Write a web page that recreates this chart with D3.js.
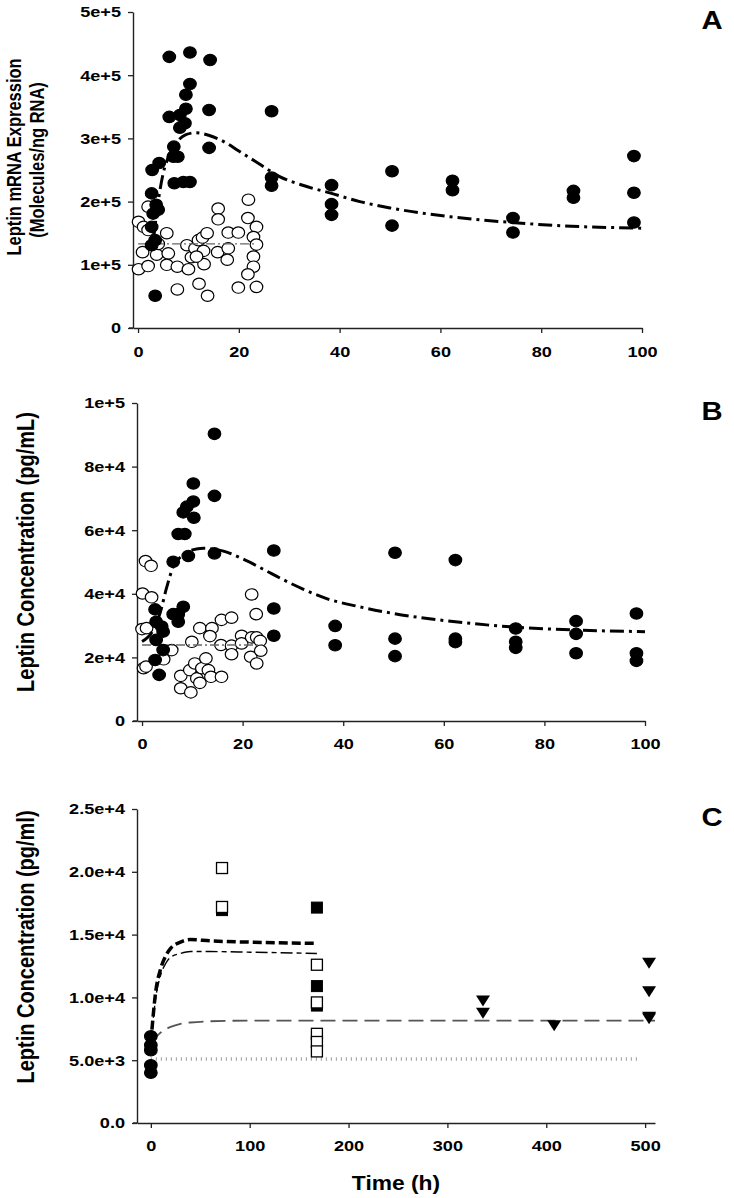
<!DOCTYPE html>
<html><head><meta charset="utf-8">
<script src="https://cdn.jsdelivr.net/npm/d3@7"></script>
<style>
html,body{margin:0;padding:0;background:#fff;}
svg text{font-family:"Liberation Sans",Arial,sans-serif;font-weight:bold;fill:#000;}
</style></head>
<body>
<svg id="chart" width="734" height="1198"></svg>
<script>
// ---------- DATA ----------
const xTicksAB = [0, 20, 40, 60, 80, 100];
const xTicksC = [0, 100, 200, 300, 400, 500];
const yTicksA = [0, 1e5, 2e5, 3e5, 4e5, 5e5];
const yLabelsA = ["0", "1e+5", "2e+5", "3e+5", "4e+5", "5e+5"];
const yTicksB = [0, 2e4, 4e4, 6e4, 8e4, 1e5];
const yLabelsB = ["0", "2e+4", "4e+4", "6e+4", "8e+4", "1e+5"];
const yTicksC = [0, 5e3, 1e4, 1.5e4, 2e4, 2.5e4];
const yLabelsC = ["0.0", "5.0e+3", "1.0e+4", "1.5e+4", "2.0e+4", "2.5e+4"];

// Panel A: leptin mRNA
const aFilled = [[6.2,4.29e5],[10.3,4.36e5],[14.3,4.24e5],[10.3,3.86e5],[9.5,3.69e5],[9.5,3.47e5],[14.1,3.45e5],[26.5,3.43e5],
  [6.2,3.34e5],[8.3,3.37e5],[9.3,3.24e5],[8.3,3.17e5],[7.1,2.87e5],[14.1,2.85e5],[7.0,2.71e5],[7.9,2.71e5],[4.2,2.61e5],
  [2.8,2.5e5],[7.2,2.29e5],[9.0,2.31e5],[10.3,2.31e5],[26.5,2.38e5],[26.5,2.25e5],[2.7,2.13e5],[3.6,1.95e5],[4.0,1.87e5],
  [3.0,1.81e5],[2.7,1.6e5],[3.4,1.39e5],[2.7,1.31e5],[3.4,0.51e5],
  [38.4,2.26e5],[38.4,1.96e5],[38.4,1.79e5],[50.4,2.48e5],[50.4,1.62e5],[62.4,2.33e5],[62.4,2.18e5],[74.4,1.74e5],
  [74.4,1.51e5],[86.4,2.17e5],[86.4,2.06e5],[98.4,2.72e5],[98.4,2.14e5],[98.4,1.67e5]];
const aOpen = [[0.1,1.68e5],[2.0,1.92e5],[1.1,1.6e5],[2.0,1.55e5],[0.1,0.93e5],[2.0,0.98e5],[0.9,1.2e5],[3.7,1.16e5],
  [4.0,1.33e5],[5.7,1.5e5],[6.0,1.18e5],[5.7,1.0e5],[7.8,0.97e5],[7.8,0.61e5],[9.7,1.31e5],[10.0,0.93e5],[10.6,1.12e5],
  [11.3,1.26e5],[12.0,1.39e5],[12.8,1.43e5],[13.7,1.5e5],[13.0,1.22e5],[13.1,1.01e5],[12.1,0.7e5],[13.8,0.51e5],
  [11.6,1.13e5],[15.9,1.89e5],[15.9,1.72e5],[15.8,1.2e5],[17.9,1.51e5],[17.9,1.26e5],[17.7,1.08e5],[19.9,1.51e5],
  [19.9,0.64e5],[21.9,2.03e5],[21.8,1.74e5],[23.5,1.6e5],[22.9,1.44e5],[23.5,1.32e5],[22.9,1.13e5],[22.9,0.97e5],
  [21.8,0.85e5],[23.5,0.65e5]];
const aModel = [[3,1.35e5],[4,2.0e5],[5,2.45e5],[6,2.7e5],[7.5,2.92e5],[9.5,3.06e5],[11.5,3.09e5],[14,3.05e5],[17,2.95e5],
  [20,2.8e5],[24,2.6e5],[28,2.4e5],[33,2.25e5],[38.4,2.13e5],[44,2.0e5],[50,1.9e5],[62,1.76e5],[74,1.67e5],[86,1.61e5],[100,1.58e5]];
const aControl = [[0,1.33e5],[23,1.33e5]];

// Panel B: leptin concentration
const bFilled = [[14.4,90.3e3],[10.2,74.7e3],[10.2,69e3],[8.9,67.4e3],[8.2,65.6e3],[10.3,63.9e3],[14.4,70.8e3],[7.2,58.8e3],
  [8.5,58.8e3],[6.2,50.1e3],[9.2,51.9e3],[14.4,52.7e3],[26.2,53.6e3],[26.2,35.4e3],[26.2,26.8e3],[8.2,35.9e3],[6.2,33.6e3],
  [7.2,33.6e3],[2.6,35.1e3],[2.8,31.2e3],[3.9,29.7e3],[4.2,28.1e3],[2.8,25.5e3],[4.2,22.3e3],[2.6,19.2e3],[3.4,14.5e3],
  [7.2,31.2e3],[38.4,29.9e3],[38.4,23.8e3],[50.3,52.9e3],[50.3,25.9e3],[50.3,20.4e3],[62.3,50.6e3],[62.3,25.9e3],
  [62.3,24.8e3],[74.3,29.1e3],[74.3,24.9e3],[74.3,23.0e3],[86.3,31.4e3],[86.3,27.4e3],[86.3,21.3e3],[98.3,33.8e3],
  [98.3,21.3e3],[98.3,18.9e3]];
const bOpen = [[0.7,50.3e3],[1.8,48.8e3],[0.1,40.1e3],[1.9,38.9e3],[21.8,39.8e3],[22.7,33.6e3],[15.8,31.8e3],[17.8,32.5e3],
  [0,28.9e3],[0.9,29.2e3],[0.3,16.6e3],[0.8,17.1e3],[5.9,22.3e3],[4.3,19.4e3],[9.9,24.9e3],[7.7,14.2e3],[7.7,10.3e3],
  [9.7,9.0e3],[9.5,16e3],[10.5,18.1e3],[11.5,29.2e3],[10.9,13.4e3],[11.5,12.0e3],[11.9,16.6e3],[12.7,19.7e3],
  [13.2,16.0e3],[13.7,13.9e3],[13.9,29.2e3],[13.5,26.7e3],[15.8,13.9e3],[15.7,23.9e3],[17.8,23.7e3],[17.8,21e3],
  [19.8,26.8e3],[19.8,24.4e3],[21.8,26.3e3],[21.6,20.2e3],[22.8,26.3e3],[23.5,25.2e3],[23.6,22.1e3],[22.8,18.1e3]];
const bModel = [[0,25e3],[2,28e3],[3.6,34e3],[4.9,42e3],[6.2,48.5e3],[8,52e3],[10,53.8e3],[12.2,54.3e3],[16,53.5e3],
  [20,51e3],[24,47.8e3],[28,44.5e3],[32,41.5e3],[36.7,38.5e3],[43,36e3],[50,33.8e3],[62.3,31.2e3],[74.3,29.5e3],
  [86.3,28.6e3],[100,28.1e3]];
const bControl = [[0,23.9e3],[24,23.9e3]];

// Panel C: long-term leptin concentration
const cCircles = [[0,6.9e3],[0,6.2e3],[0,5.8e3],[0,4.6e3],[0,4.0e3]];
const cSquaresFilled = [[72,16.95e3],[168,17.15e3],[168,10.9e3],[168,9.35e3]];
const cSquaresOpen = [[72,20.3e3],[72,17.2e3],[168,12.6e3],[168,9.6e3],[168,7.1e3],[168,6.45e3],[168,5.7e3]];
const cTriangles = [[336,9.71e3],[336,8.73e3],[408,7.75e3],[504,12.71e3],[504,10.45e3],[504,8.41e3],[504,8.3e3]];
const cModelThick = [[0,6.4e3],[5,10.5e3],[10,12.3e3],[15,13.3e3],[20,13.9e3],[30,14.4e3],[40,14.6e3],[60,14.5e3],[100,14.4e3],[168,14.3e3]];
const cModelThin = [[0,6.4e3],[5,10e3],[10,11.8e3],[15,12.7e3],[20,13.2e3],[30,13.5e3],[40,13.65e3],[60,13.65e3],[100,13.6e3],[168,13.5e3]];
const cModelGrey = [[0,6.4e3],[10,7.2e3],[20,7.65e3],[30,7.9e3],[40,8.0e3],[60,8.1e3],[100,8.15e3],[510,8.15e3]];
const cBaseline = [[0,5.1e3],[495,5.1e3]];

// ---------- DRAW ----------
const svg = d3.select("#chart");
const STRETCH = 1.17; // glyphs in the reference are horizontally wide

function makePanel(cfg) {
  const g = svg.append("g");
  const x = d3.scaleLinear().domain(cfg.xDomain).range([cfg.left, cfg.right]);
  const y = d3.scaleLinear().domain(cfg.yDomain).range([cfg.bottom, cfg.top]);

  const ya = g.append("g").attr("transform", `translate(${cfg.left},0)`)
    .call(d3.axisLeft(y).tickValues(cfg.yTicks).tickFormat((d, i) => cfg.yLabels[i])
      .tickSize(5).tickPadding(7).tickSizeOuter(0));
  const xa = g.append("g").attr("transform", `translate(0,${cfg.bottom})`)
    .call(d3.axisBottom(x).tickValues(cfg.xTicks).tickFormat(d3.format("d"))
      .tickSize(5).tickPadding(cfg.xPad).tickSizeOuter(0));
  [ya, xa].forEach(a => {
    a.select(".domain").attr("stroke", "#222").attr("stroke-width", 1.4);
    a.selectAll(".tick line").attr("stroke", "#222").attr("stroke-width", 1.3);
    a.selectAll("text").style("font-size", cfg.tickFont + "px").style("font-weight", "bold")
      .style("font-family", '"Liberation Sans",Arial,sans-serif').attr("fill", "#000");
  });
  ya.selectAll("text").each(function () {
    const t = d3.select(this); const x0 = +t.attr("x");
    t.attr("x", 0).attr("transform", `translate(${x0},0) scale(${STRETCH},1)`);
  });
  xa.selectAll("text").attr("transform", `scale(${STRETCH},1)`);

  g.append("line").attr("x1", cfg.left - 4).attr("x2", cfg.left).attr("y1", cfg.bottom).attr("y2", cfg.bottom)
    .attr("stroke", "#222").attr("stroke-width", 1.4);

  g.append("text").attr("transform", `translate(712,${cfg.top + 17}) scale(${STRETCH},1)`)
    .attr("text-anchor", "middle").style("font-size", "25px").text(cfg.letter);

  cfg.yTitle.forEach(t => {
    g.append("text").attr("transform", `translate(${t.x},${t.cy}) rotate(-90) scale(1,${STRETCH})`)
      .attr("text-anchor", "middle").style("font-size", t.size + "px").text(t.text);
  });
  return {g, x, y};
}

const line = (p, curve) => d3.line().x(d => p.x(d[0])).y(d => p.y(d[1])).curve(curve || d3.curveMonotoneX);

function ellipses(p, data, filled) {
  p.g.append("g").selectAll("ellipse").data(data).join("ellipse")
    .attr("cx", d => p.x(d[0])).attr("cy", d => p.y(d[1]))
    .attr("rx", 6.3).attr("ry", 5.7)
    .attr("fill", filled ? "#000" : "#fff").attr("stroke", "#000").attr("stroke-width", 1.2);
}

// Panel A
const pA = makePanel({
  xDomain: [-1, 100], left: 133, right: 642, yDomain: [0, 5e5], bottom: 328, top: 12,
  xTicks: xTicksAB, yTicks: yTicksA, yLabels: yLabelsA, xPad: 13, tickFont: 15.5, letter: "A",
  yTitle: [{text: "Leptin mRNA Expression", x: 21, cy: 157, size: 16.5},
           {text: "(Molecules/ng RNA)", x: 44, cy: 160, size: 16.5}]
});
ellipses(pA, aOpen, false);
pA.g.append("path").datum(aControl).attr("d", line(pA, d3.curveLinear)).attr("fill", "none")
  .attr("stroke", "#666").attr("stroke-width", 1.3).attr("stroke-dasharray", "9,3,2,3");
ellipses(pA, aFilled, true);
pA.g.append("path").datum(aModel).attr("d", line(pA)).attr("fill", "none")
  .attr("stroke", "#000").attr("stroke-width", 3).attr("stroke-dasharray", "14,5,3,5");

// Panel B
const pB = makePanel({
  xDomain: [-1, 100], left: 137, right: 645, yDomain: [0, 1e5], bottom: 721, top: 403,
  xTicks: xTicksAB, yTicks: yTicksB, yLabels: yLabelsB, xPad: 12, tickFont: 15.5, letter: "B",
  yTitle: [{text: "Leptin Concentration (pg/mL)", x: 34, cy: 552, size: 20}]
});
ellipses(pB, bOpen, false);
pB.g.append("path").datum(bControl).attr("d", line(pB, d3.curveLinear)).attr("fill", "none")
  .attr("stroke", "#666").attr("stroke-width", 1.3).attr("stroke-dasharray", "9,3,2,3");
ellipses(pB, bFilled, true);
pB.g.append("path").datum(bModel).attr("d", line(pB)).attr("fill", "none")
  .attr("stroke", "#000").attr("stroke-width", 3).attr("stroke-dasharray", "14,5,3,5");

// Panel C
const pC = makePanel({
  xDomain: [-14, 510], left: 137, right: 655, yDomain: [0, 2.5e4], bottom: 1123, top: 809,
  xTicks: xTicksC, yTicks: yTicksC, yLabels: yLabelsC, xPad: 12, tickFont: 15.5, letter: "C",
  yTitle: [{text: "Leptin Concentration (pg/ml)", x: 34, cy: 947, size: 20}]
});
pC.g.append("path").datum(cBaseline).attr("d", line(pC, d3.curveLinear)).attr("fill", "none")
  .attr("stroke", "#999").attr("stroke-width", 3.5).attr("stroke-dasharray", "1,4");
pC.g.append("path").datum(cModelGrey).attr("d", line(pC)).attr("fill", "none")
  .attr("stroke", "#555").attr("stroke-width", 1.8).attr("stroke-dasharray", "15,7");
pC.g.append("path").datum(cModelThin).attr("d", line(pC)).attr("fill", "none")
  .attr("stroke", "#000").attr("stroke-width", 1.4).attr("stroke-dasharray", "12,4,5,4");
pC.g.append("path").datum(cModelThick).attr("d", line(pC)).attr("fill", "none")
  .attr("stroke", "#000").attr("stroke-width", 3.5).attr("stroke-dasharray", "9,4");
ellipses(pC, cCircles, true);
pC.g.append("g").selectAll("rect.f").data(cSquaresFilled).join("rect")
  .attr("x", d => pC.x(d[0]) - 5.5).attr("y", d => pC.y(d[1]) - 5.5).attr("width", 11).attr("height", 11)
  .attr("fill", "#000").attr("stroke", "#000");
pC.g.append("g").selectAll("rect.o").data(cSquaresOpen).join("rect")
  .attr("x", d => pC.x(d[0]) - 5.5).attr("y", d => pC.y(d[1]) - 5.5).attr("width", 11).attr("height", 11)
  .attr("fill", "#fff").attr("stroke", "#000").attr("stroke-width", 1.3);
pC.g.append("g").selectAll("path").data(cTriangles).join("path")
  .attr("transform", d => `translate(${pC.x(d[0])},${pC.y(d[1])})`)
  .attr("d", "M-7,-5.5L7,-5.5L0,5.5Z").attr("fill", "#000");

svg.append("text").attr("transform", `translate(396,1190) scale(${STRETCH},1)`).attr("text-anchor", "middle")
  .style("font-size", "19.5px").text("Time (h)");
</script>
</body></html>
